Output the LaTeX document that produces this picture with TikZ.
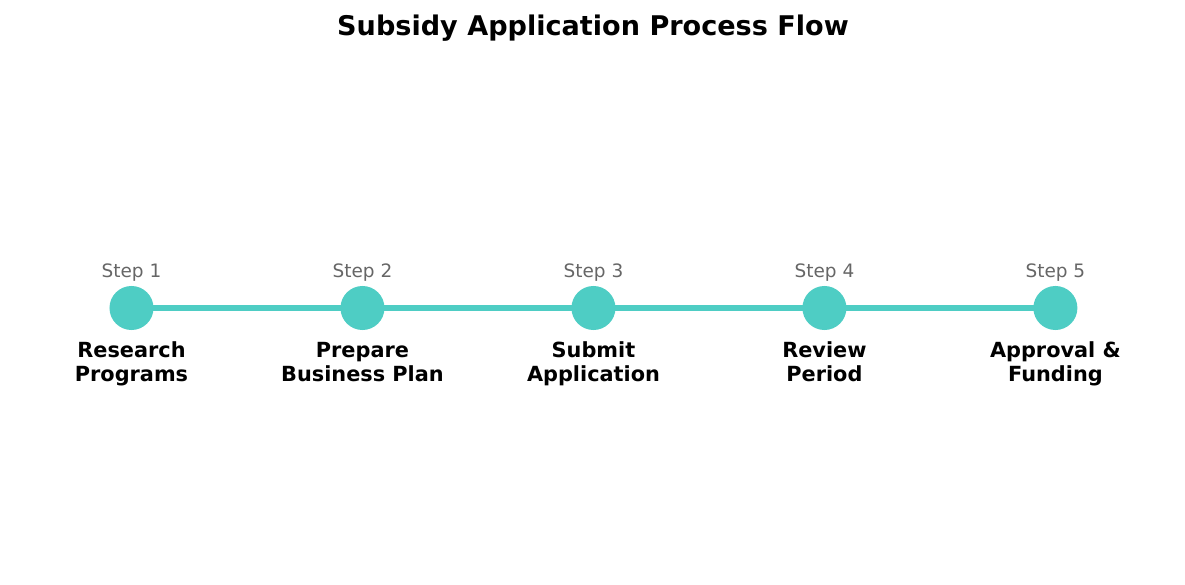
\documentclass[tikz,border=0pt]{standalone}
\usepackage{fontspec}
\setmainfont{DejaVu Sans}
\usepackage{xcolor}
\usetikzlibrary{positioning,backgrounds}
\definecolor{stepteal}{HTML}{4ECDC4}
\definecolor{stepgray}{HTML}{666666}

\begin{document}
\begin{tikzpicture}[x=0.72pt,y=0.72pt,
            node distance=134.6pt,
            stepdot/.style={circle,fill=stepteal,minimum size=31.7pt,inner sep=0pt,outer sep=0pt},
            steptag/.style={inner sep=0pt,text=stepgray,font=\fontsize{13.3}{16}\selectfont},
            stepname/.style={inner sep=0pt,align=center,anchor=base,font=\fontsize{15}{16.8}\selectfont\bfseries},
            link/.style={stepteal,line width=4pt}]
            \useasboundingbox (0,0) rectangle (1185,584);
            \node[anchor=base,inner sep=0pt,font=\fontsize{19.5}{23}\selectfont\bfseries] (title) at (593,548) {Subsidy Application Process Flow};
            \node[stepdot] (c1) at (131.5,276) {};
            \node[stepdot,right=of c1] (c2) {};
            \node[stepdot,right=of c2] (c3) {};
            \node[stepdot,right=of c3] (c4) {};
            \node[stepdot,right=of c4] (c5) {};
            \node[steptag,above=3.4pt of c1] (t1) {Step 1};
            \node[steptag,above=3.4pt of c2] (t2) {Step 2};
            \node[steptag,above=3.4pt of c3] (t3) {Step 3};
            \node[steptag,above=3.4pt of c4] (t4) {Step 4};
            \node[steptag,above=3.4pt of c5] (t5) {Step 5};
            % base anchor sits on the second line
            \node[stepname] (n1) at ([yshift=-52.8pt]c1.center) {Research\\Programs};
            \node[stepname] (n2) at ([yshift=-52.8pt]c2.center) {Prepare\\Business Plan};
            \node[stepname] (n3) at ([yshift=-52.8pt]c3.center) {Submit\\Application};
            \node[stepname] (n4) at ([yshift=-52.8pt]c4.center) {Review\\Period};
            \node[stepname] (n5) at ([yshift=-52.8pt]c5.center) {Approval \&\\Funding};
            \begin{scope}[on background layer]
            \draw[link] (c1.center)--(c2.center);
            \draw[link] (c2.center)--(c3.center);
            \draw[link] (c3.center)--(c4.center);
            \draw[link] (c4.center)--(c5.center);
            \end{scope}
        \end{tikzpicture}
\end{document}
